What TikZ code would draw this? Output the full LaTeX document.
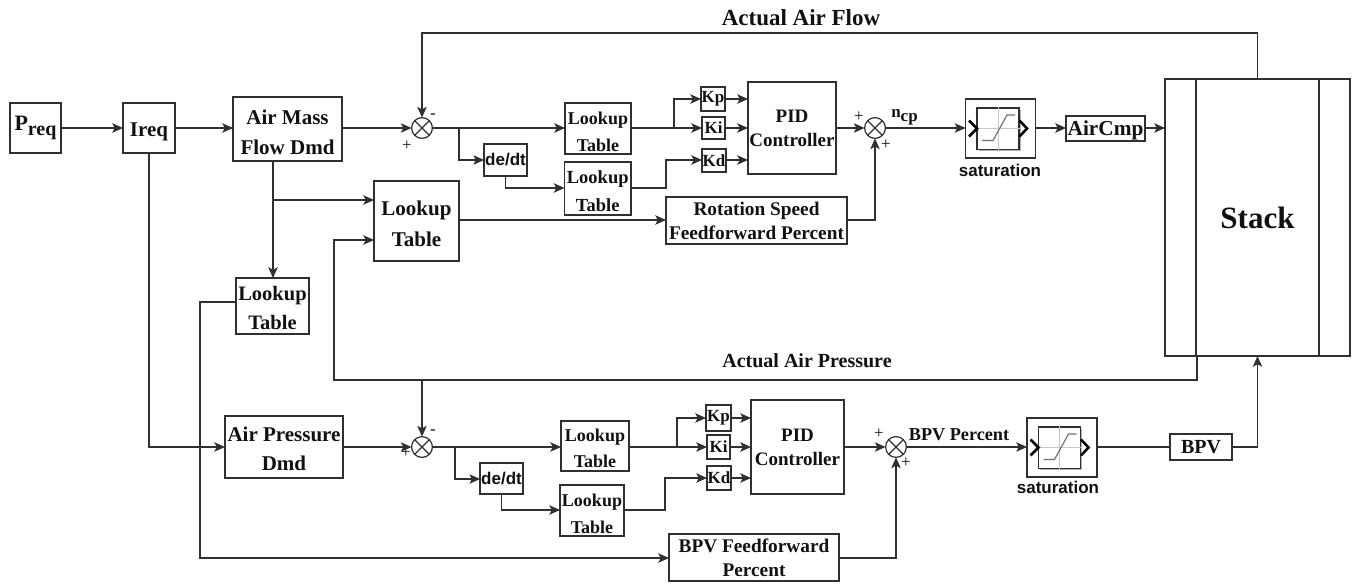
\documentclass[tikz,border=0pt]{standalone}
\usepackage{fontspec}
\setmainfont{Liberation Serif}
\newfontfamily\arialf{Liberation Sans}
\usetikzlibrary{arrows.meta,calc}
\definecolor{ln}{HTML}{303030}
\definecolor{tx}{HTML}{111111}
\newcommand\fpx[2]{\fontsize{\fpeval{#1*0.75}pt}{\fpeval{#2*0.75}pt}\selectfont}
\newcommand\dn[1]{\rule{0pt}{\dimexpr .69em+#1pt*3/2\relax}}
\newcommand\bx[8]{%
  \pgfmathsetmacro\bxW{(#4-#2)*0.75}\pgfmathsetmacro\bxH{(#5-#3)*0.75}%
  \node[blockbox,minimum width=\bxW pt,minimum height=\bxH pt,font=\fpx{#6}{#7}\bfseries] (#1) at ({(#2+#4)/2},{(#3+#5)/2}) {#8};}
\newcommand\lab[4]{\node[inner sep=0,text=tx,font=\fpx{#3}{#3}\bfseries] (#1) at (#2) {#4};}
\newcommand\sgn[3]{\node[inner sep=0,text=tx,font=\fpx{17}{17}] (#1) at (#2) {#3};}
\newcommand\satblock[3]{%
  \begin{scope}[shift={(#2)}]
    \node[blockbox,minimum width=52.5pt,minimum height=44.5pt] (#1) at (0,0) {};
    \fill[black!30] (-22,-19) rectangle (20,22.5);
    \node[draw=ln,line width=1pt,fill=white,inner sep=0,minimum width=31.5pt,minimum height=31pt] (#1in) at (-2.5,0) {};
    \draw[black!22,line width=.7pt] (#1in.north) -- (#1in.south) (#1in.west) -- (#1in.east);
    \draw[black!55,line width=.9pt] (-18.5,12) -- (-7.5,12) -- (6.5,-13.5) -- (14.5,-13.5);
    \draw[black,line width=1.9pt] (-31.5,-8) -- (-23.5,0) -- (-31.5,8);
    \draw[black,line width=1.9pt] (19,-8) -- (26.5,0) -- (19,8);
  \end{scope}
  \node[inner sep=0,text=tx,font=\arialf\fpx{17}{17}\bfseries] (#1txt) at ($(#1.south)+(#3)$) {saturation};}
\tikzset{
  blockbox/.style={draw=ln,line width=1.05pt,inner sep=0,outer sep=0,align=center,text=tx},
  wire/.style={draw=ln,line width=1.05pt},
  arr/.style={wire,-{Stealth[length=8pt,width=7pt,inset=1.8pt]}},
  sumnode/.style={circle,draw=ln,line width=.9pt,fill=white,inner sep=0,outer sep=0,minimum size=15.6pt,
    path picture={\draw[ln,line width=.9pt] (path picture bounding box.north west)--(path picture bounding box.south east)
      (path picture bounding box.north east)--(path picture bounding box.south west);}}
}
\begin{document}
\begin{tikzpicture}[x=0.75pt,y=-0.75pt]
\useasboundingbox[fill=white] (0,0) rectangle (1356,585);
% left column
\bx{preq}{10}{103}{61}{153}{22}{22}{P\raisebox{-4pt}{\fpx{20}{20}req}}
\bx{ireq}{123}{103}{175}{153}{21}{21}{\dn{3}Ireq}
\bx{amf}{233}{97}{342}{161}{21}{30}{\dn{3}Air Mass\\Flow Dmd}
\bx{lutS}{236}{278}{309}{334}{20.5}{29}{\dn{2.5}Lookup\\Table}
\bx{apd}{225}{416}{343}{478}{21}{29}{\dn{2}Air Pressure\\Dmd}
\bx{lutB}{374}{181}{459}{261}{21}{31}{\dn{2.5}Lookup\\Table}
% upper loop
\node[sumnode] (s1) at (422,128) {};
\bx{lut1}{565}{103}{631}{154}{18}{27}{\dn{3}Lookup\\Table}
\bx{lut2}{564.5}{162}{631}{215}{18.5}{28}{\dn{3}Lookup\\Table}
\node[blockbox,minimum width=32pt,minimum height=24pt,font=\arialf\fpx{17}{17}\bfseries] (dd1) at (505.5,160) {de/dt};
\bx{kp1}{701}{87}{725}{111}{17}{17}{Kp}
\bx{ki1}{702}{117}{725}{139}{17}{17}{Ki}
\bx{kd1}{702}{149}{726}{172}{17}{17}{Kd}
\bx{pid1}{748}{82}{836}{174}{19}{24}{PID\\Controller}
\bx{rot}{666}{197}{847}{244}{19.3}{24}{Rotation Speed\\Feedforward Percent}
\node[sumnode] (s2) at (875,128) {};
\satblock{sat1}{1000.5,128.5}{-0.5,12}
\bx{cmp}{1066}{116}{1145}{141}{21.3}{21}{\dn{2}AirCmp}
% stack
\bx{stack}{1165}{79}{1350}{356}{31}{31}{Stack}
\draw[wire] (1196,79) -- (1196,356) (1319,79) -- (1319,356);
% lower loop
\node[sumnode] (s3) at (422,447) {};
\bx{lut3}{561}{421}{629}{471}{18}{26}{\dn{2}Lookup\\Table}
\bx{lut4}{560}{485}{624}{536}{18}{27}{\dn{3}Lookup\\Table}
\node[blockbox,minimum width=32pt,minimum height=23.5pt,font=\arialf\fpx{17}{17}\bfseries] (dd2) at (501.5,478.5) {de/dt};
\bx{kp2}{706}{405}{731}{431}{17}{17}{Kp}
\bx{ki2}{707}{435}{730}{459}{17}{17}{Ki}
\bx{kd2}{707}{466}{731}{490}{17}{17}{Kd}
\bx{pid2}{751}{400}{844}{494}{19}{24}{PID\\Controller}
\bx{ffb}{669}{534}{839}{581}{19.3}{24}{BPV Feedforward\\Percent}
\node[sumnode] (s4) at (896,447) {};
\satblock{sat2}{1062,447.5}{-4,10}
\bx{bpv}{1170}{434}{1232}{460}{20}{20}{BPV}
% labels
\lab{lflow}{801,18}{23}{Actual Air Flow}
\lab{lpres}{807,361}{20}{Actual Air Pressure}
\lab{lbpv}{959,435}{18.2}{BPV Percent}
\node[inner sep=0,text=tx,font=\fpx{17}{17}\bfseries] (lncp) at (904.5,117) {n\raisebox{-3pt}{cp}};
\sgn{m1}{433,116}{-}\sgn{p1}{407,146}{+}
\sgn{p2a}{859,117}{+}\sgn{p2b}{886,145}{+}
\sgn{m3}{433,432}{-}\sgn{p3}{406,453}{+}
\sgn{p4a}{879,434}{+}\sgn{p4b}{906,463}{+}
% chain
\draw[arr] (preq.east |- 0,128) -- (ireq.west |- 0,128);
\draw[arr] (ireq.east |- 0,128) -- (amf.west |- 0,128);
\draw[arr] (amf.east |- 0,128) -- (s1.west);
\draw[arr] (amf.south -| 273,0) -- (lutS.north -| 273,0);
\draw[arr] (273,200) -- (lutB.west |- 0,200);
\draw[arr] (ireq.south) -- (149,447) -- (apd.west |- 0,447);
\draw[arr] (lutS.west |- 0,302) -- (200,302) -- (200,558) -- (ffb.west |- 0,558);
\draw[arr] (apd.east |- 0,447) -- (s3.west);
% upper
\draw[arr] (s1.east) -- (lut1.west |- 0,128);
\draw[arr] (459,128) -- (459,160) -- (dd1.west);
\draw[arr] (dd1.south) -- (505.5,188) -- (lut2.west |- 0,188);
\draw[arr] (lut1.east |- 0,128) -- (ki1.west |- 0,128);
\draw[arr] (674,128) -- (674,99) -- (kp1.west |- 0,99);
\draw[arr] (lut2.east |- 0,188) -- (666,188) -- (666,160) -- (kd1.west |- 0,160);
\draw[arr] (kp1.east |- 0,99) -- (pid1.west |- 0,99);
\draw[arr] (ki1.east |- 0,128) -- (pid1.west |- 0,128);
\draw[arr] (kd1.east |- 0,160) -- (pid1.west |- 0,160);
\draw[arr] (pid1.east |- 0,128) -- (s2.west);
\draw[arr] (lutB.east |- 0,220) -- (rot.west |- 0,220);
\draw[arr] (rot.east |- 0,220) -- (875,220) -- (s2.south);
\draw[arr] (s2.east) -- (sat1.west |- s2.east);
\draw[arr] (sat1.east |- 0,128) -- (cmp.west |- 0,128);
\draw[arr] (cmp.east |- 0,128) -- (stack.west |- 0,128);
\draw[arr] (stack.north) -- (stack.north |- 0,33) -- (s1.north |- 0,33) -- (s1.north);
% feedback pressure
\draw[arr] (1197,356) -- (1197,380) -- (334,380) -- (334,240) -- (lutB.west |- 0,240);
\draw[arr] (422,380) -- (s3.north);
% lower
\draw[arr] (s3.east) -- (lut3.west |- 0,447);
\draw[arr] (455,447) -- (455,479) -- (dd2.west |- 0,479);
\draw[arr] (dd2.south) -- (501.5,510) -- (lut4.west |- 0,510);
\draw[arr] (lut3.east |- 0,447) -- (ki2.west |- 0,447);
\draw[arr] (677,447) -- (677,418) -- (kp2.west |- 0,418);
\draw[arr] (lut4.east |- 0,510) -- (665,510) -- (665,478) -- (kd2.west |- 0,478);
\draw[arr] (kp2.east |- 0,418) -- (pid2.west |- 0,418);
\draw[arr] (ki2.east |- 0,447) -- (pid2.west |- 0,447);
\draw[arr] (kd2.east |- 0,478) -- (pid2.west |- 0,478);
\draw[arr] (pid2.east |- 0,447) -- (s4.west);
\draw[arr] (ffb.east |- 0,558) -- (896,558) -- (s4.south);
\draw[arr] (s4.east) -- (sat2.west |- s4.east);
\draw[wire] (sat2.east |- 0,447) -- (bpv.west |- 0,447);
\draw[arr] (bpv.east |- 0,447) -- (stack.south |- 0,447) -- (stack.south);
\end{tikzpicture}
\end{document}
